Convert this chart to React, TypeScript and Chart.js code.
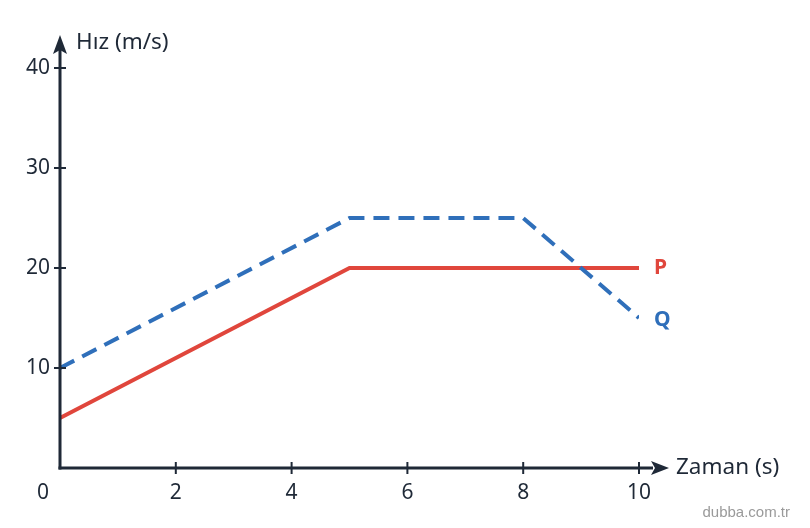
import React, { useEffect, useRef } from "react";
import { Chart, registerables } from "chart.js";

Chart.register(...registerables);

const timeValues = [0, 5, 8, 10];
const pPoints = [
  { x: 0, y: 5 },
  { x: 5, y: 20 },
  { x: 10, y: 20 },
];
const qPoints = [
  { x: 0, y: 10 },
  { x: 5, y: 25 },
  { x: 8, y: 25 },
  { x: 10, y: 15 },
];
const xTickLabels = [2, 4, 6, 8, 10];
const yTickLabels = [10, 20, 30, 40];
const seriesNames = ["P", "Q"];
const xTitle = "Zaman (s)";
const yTitle = "Hız (m/s)";
const watermark = "dubba.com.tr";

const AXIS = "#1f2937";
const RED = "#e0463c";
const BLUE = "#2f6fba";
const FONT = "'Noto Sans', 'Open Sans', sans-serif";

const axesPlugin = {
  id: "customAxes",
  afterDatasetsDraw(chart: any) {
    const ctx = chart.ctx;
    const xs = chart.scales.x;
    const ys = chart.scales.y;
    const x0 = xs.getPixelForValue(0);
    const y0 = ys.getPixelForValue(0);
    const xEnd = xs.getPixelForValue(10);
    const yTop = ys.getPixelForValue(40);
    ctx.save();
    ctx.strokeStyle = AXIS;
    ctx.fillStyle = AXIS;
    ctx.lineWidth = 3;
    // y axis
    ctx.beginPath();
    ctx.moveTo(x0, y0 + 1.5);
    ctx.lineTo(x0, yTop - 18);
    ctx.stroke();
    ctx.beginPath();
    ctx.moveTo(x0, yTop - 33);
    ctx.lineTo(x0 - 7, yTop - 14);
    ctx.lineTo(x0, yTop - 18);
    ctx.lineTo(x0 + 7, yTop - 14);
    ctx.closePath();
    ctx.fill();
    // x axis
    ctx.beginPath();
    ctx.moveTo(x0 - 1.5, y0);
    ctx.lineTo(xEnd + 14, y0);
    ctx.stroke();
    ctx.beginPath();
    ctx.moveTo(xEnd + 30, y0);
    ctx.lineTo(xEnd + 12, y0 - 7);
    ctx.lineTo(xEnd + 16, y0);
    ctx.lineTo(xEnd + 12, y0 + 7);
    ctx.closePath();
    ctx.fill();
    // ticks
    ctx.lineWidth = 2;
    ctx.font = `21px ${FONT}`;
    ctx.textAlign = "center";
    ctx.textBaseline = "middle";
    xTickLabels.forEach((v) => {
      const px = xs.getPixelForValue(v);
      ctx.beginPath();
      ctx.moveTo(px, y0 - 6);
      ctx.lineTo(px, y0 + 6);
      ctx.stroke();
      ctx.fillText(String(v), px, y0 + 25);
    });
    ctx.textAlign = "right";
    yTickLabels.forEach((v) => {
      const py = ys.getPixelForValue(v);
      ctx.beginPath();
      ctx.moveTo(x0 - 6, py);
      ctx.lineTo(x0 + 6, py);
      ctx.stroke();
      ctx.fillText(String(v), x0 - 10, py);
    });
    ctx.textAlign = "center";
    ctx.fillText("0", x0 - 17, y0 + 25);
    // titles
    ctx.font = `22.5px ${FONT}`;
    ctx.textAlign = "left";
    ctx.fillText(yTitle, x0 + 16, yTop - 25);
    ctx.fillText(xTitle, xEnd + 37, y0);
    // series labels
    ctx.font = `bold 21px ${FONT}`;
    ctx.fillStyle = RED;
    ctx.fillText(seriesNames[0], xEnd + 15, ys.getPixelForValue(20));
    ctx.fillStyle = BLUE;
    ctx.fillText(seriesNames[1], xEnd + 15, ys.getPixelForValue(15) + 2);
    // watermark
    ctx.font = `15px 'Liberation Sans', Arial, sans-serif`;
    ctx.fillStyle = "#9a9a9a";
    ctx.textAlign = "right";
    ctx.fillText(watermark, 790, 513);
    ctx.restore();
  },
};

export default function App() {
  const ref = useRef<HTMLCanvasElement>(null);
  useEffect(() => {
    if (!ref.current) return;
    const chart = new Chart(ref.current, {
      type: "scatter",
      data: {
        labels: timeValues,
        datasets: [
          {
            label: seriesNames[0],
            data: pPoints,
            showLine: true,
            borderColor: RED,
            backgroundColor: RED,
            borderWidth: 4,
            pointRadius: 0,
            tension: 0,
            order: 2,
          },
          {
            label: seriesNames[1],
            data: qPoints,
            showLine: true,
            borderColor: BLUE,
            backgroundColor: BLUE,
            borderWidth: 4,
            borderDash: [16, 9],
            pointRadius: 0,
            tension: 0,
            order: 1,
          },
        ],
      },
      options: {
        animation: false,
        responsive: true,
        maintainAspectRatio: false,
        layout: { padding: { left: 60, right: 171, top: 68, bottom: 60 } },
        plugins: { legend: { display: false }, tooltip: { enabled: false } },
        scales: {
          x: { type: "linear", min: 0, max: 10, display: false },
          y: { type: "linear", min: 0, max: 40, display: false },
        },
      },
      plugins: [axesPlugin],
    });
    return () => chart.destroy();
  }, []);
  return (
    <div style={{ position: "fixed", left: 0, top: 0, width: 810, height: 528, background: "#fff" }}>
      <canvas ref={ref} />
    </div>
  );
}
